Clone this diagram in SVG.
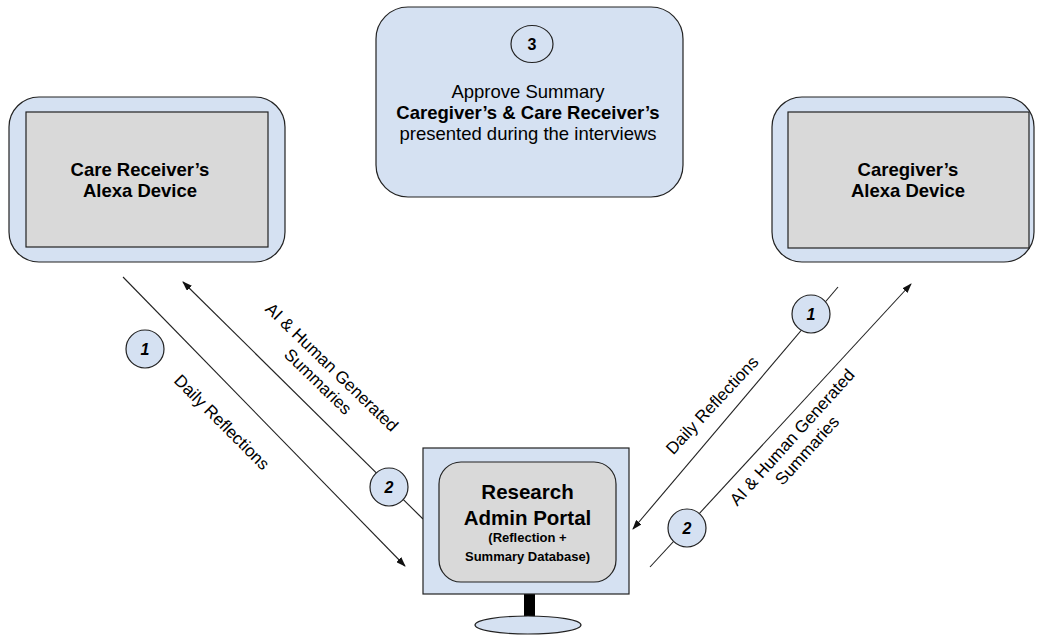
<svg xmlns="http://www.w3.org/2000/svg" width="1037" height="635" viewBox="0 0 1037 635">
<style>
.outer{fill:#d5e1f2;stroke:#222;stroke-width:1.2}
.inner{fill:#d9d9d9;stroke:#222;stroke-width:1.2}
.badge{fill:#d5e1f2;stroke:#222;stroke-width:1.2}
.t{font-family:"Liberation Sans",Arial,sans-serif;fill:#000;text-anchor:middle}
.b{font-weight:bold}
.lbl{font-family:"Liberation Sans",Arial,sans-serif;font-size:17px;fill:#000;text-anchor:middle}
.num{font-family:"Liberation Sans",Arial,sans-serif;font-size:16px;font-weight:bold;font-style:italic;text-anchor:middle;fill:#000}
.conn{stroke:#222;stroke-width:1.1;fill:none}
</style>
<defs>
<marker id="arr" viewBox="0 0 10 7" refX="9" refY="3.5" markerWidth="10" markerHeight="7" markerUnits="userSpaceOnUse" orient="auto">
<path d="M0,0 L10,3.5 L0,7 Z" fill="#111"/>
</marker>
</defs>
<rect width="1037" height="635" fill="#fff"/>

<g id="connectors">
<line class="conn" x1="123" y1="277" x2="405" y2="566" marker-end="url(#arr)"/>
<line class="conn" x1="423" y1="519" x2="183" y2="282" marker-end="url(#arr)"/>
<line class="conn" x1="838" y1="287" x2="633" y2="529" marker-end="url(#arr)"/>
<line class="conn" x1="650" y1="567" x2="911" y2="284" marker-end="url(#arr)"/>
<g transform="translate(332,367) rotate(44)"><text class="lbl" x="0" y="6">AI &amp; Human Generated</text><text class="lbl" x="0" y="26">Summaries</text></g>
<g transform="translate(222,422) rotate(45)"><text class="lbl" x="0" y="6">Daily Reflections</text></g>
<g transform="translate(712,405) rotate(-47)"><text class="lbl" x="0" y="6">Daily Reflections</text></g>
<g transform="translate(792,437) rotate(-48)"><text class="lbl" x="0" y="6">AI &amp; Human Generated</text><text class="lbl" x="0" y="26">Summaries</text></g>
</g>

<g id="care-receiver-device">
<rect class="outer" x="9" y="97" width="276" height="165" rx="30"/>
<rect class="inner" x="26" y="112" width="242" height="135"/>
<text class="t b" x="140" y="176" font-size="18.5">Care Receiver’s</text>
<text class="t b" x="140" y="197" font-size="18.5">Alexa Device</text>
</g>

<g id="caregiver-device">
<rect class="outer" x="772" y="97" width="262" height="165" rx="30"/>
<rect class="inner" x="788" y="112" width="241" height="136"/>
<text class="t b" x="908" y="176" font-size="18.5">Caregiver’s</text>
<text class="t b" x="908" y="197" font-size="18.5">Alexa Device</text>
</g>

<g id="approve-summary">
<rect class="outer" x="376" y="7" width="307" height="190" rx="32"/>
<ellipse fill="none" stroke="#222" stroke-width="1.2" cx="532" cy="44" rx="21" ry="18.5"/>
<text class="t b" x="532" y="50" font-size="16">3</text>
<text class="t" x="528" y="98" font-size="18.5">Approve Summary</text>
<text class="t b" x="528" y="119" font-size="18.5">Caregiver’s &amp; Care Receiver’s</text>
<text class="t" x="528" y="140" font-size="18.5">presented during the interviews</text>
</g>

<g id="research-portal">
<rect x="524" y="594" width="11" height="25" fill="#000"/>
<ellipse class="outer" cx="528" cy="625" rx="53" ry="9"/>
<rect class="outer" x="423" y="448" width="206" height="146"/>
<rect class="inner" x="439" y="462" width="177" height="120" rx="22"/>
<text class="t b" x="527.5" y="499" font-size="20.5">Research</text>
<text class="t b" x="527.5" y="525" font-size="20.5">Admin Portal</text>
<text class="t b" x="527.5" y="542" font-size="13">(Reflection +</text>
<text class="t b" x="527.5" y="561" font-size="13">Summary Database)</text>
</g>

<g id="badge-left-1">
<circle class="badge" cx="145" cy="349" r="19"/>
<text class="num" x="145" y="355">1</text>
</g>
<g id="badge-left-2">
<circle class="badge" cx="389" cy="487" r="19"/>
<text class="num" x="389" y="493">2</text>
</g>
<g id="badge-right-1">
<circle class="badge" cx="811" cy="314" r="19"/>
<text class="num" x="811" y="320">1</text>
</g>
<g id="badge-right-2">
<circle class="badge" cx="687" cy="528" r="19"/>
<text class="num" x="687" y="534">2</text>
</g>
</svg>
